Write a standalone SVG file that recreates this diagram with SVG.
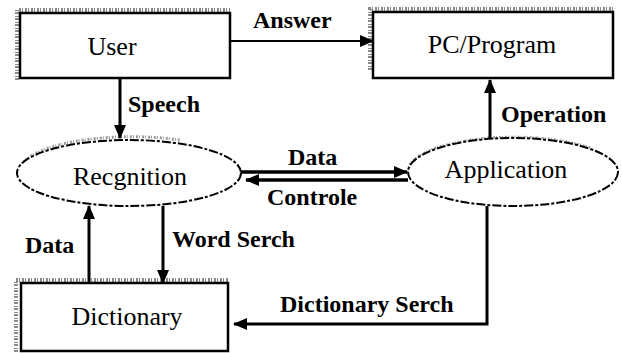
<svg xmlns="http://www.w3.org/2000/svg" width="622" height="353" viewBox="0 0 622 353">
<defs>
<marker id="ah" markerUnits="userSpaceOnUse" markerWidth="14" markerHeight="14" viewBox="0 0 14 14" refX="13" refY="7" orient="auto">
<path d="M0,1 L14,7 L0,13 Z" fill="#000"/>
</marker>
</defs>
<style>
.box{fill:#fff;stroke:#000;stroke-width:2.5}
.fuzz{fill:none;stroke:#8a8a8a;stroke-width:4;stroke-dasharray:2 1 1 2}
.ell{fill:#fff;stroke:#000;stroke-width:2;stroke-dasharray:9 2 3 2}
.efuzz{fill:none;stroke:#9a9a9a;stroke-width:3;stroke-dasharray:2 1 1 2}
text{font-family:'Liberation Serif','Times New Roman','DejaVu Serif',serif;fill:#000}
.node{font-size:26px;text-anchor:middle}
.lab{font-size:24px;font-weight:bold}
.con{fill:none;stroke:#000;stroke-width:3;marker-end:url(#ah)}
</style>
<rect width="622" height="353" fill="#fff"/>

<g id="user">
<path class="fuzz" d="M17,80 L17,10 L230,10"/>
<rect class="box" x="20" y="13" width="210" height="65"/>
<text class="node" x="112" y="55">User</text>
</g>

<g id="pcprogram">
<path class="fuzz" d="M370,70 L370,9 L613,9"/>
<rect class="box" x="373" y="12" width="240" height="66"/>
<text class="node" x="492" y="53">PC/Program</text>
</g>

<g id="recognition">
<path class="efuzz" d="M20,170 A112,34 0 0 1 180,140"/>
<ellipse class="ell" cx="129" cy="173" rx="112" ry="33"/>
<text class="node" x="130" y="185">Recgnition</text>
</g>

<g id="application">
<path class="efuzz" d="M410,165 A105,34 0 0 1 590,148"/>
<ellipse class="ell" cx="513" cy="172" rx="105" ry="34"/>
<text class="node" x="506" y="178">Application</text>
</g>

<g id="dictionary">
<path class="fuzz" d="M16,352 L16,280 L228,280"/>
<rect class="box" x="21" y="283" width="207" height="68"/>
<text class="node" x="127" y="325">Dictionary</text>
</g>

<g id="connectors">
<line class="con" x1="230" y1="41" x2="373" y2="41" style="stroke-width:2.2"/>
<line class="con" x1="120" y1="78" x2="120" y2="138"/>
<line class="con" x1="490" y1="138" x2="490" y2="80"/>
<line class="con" x1="241" y1="172" x2="407" y2="172" style="stroke-width:3.5"/>
<line class="con" x1="408" y1="180" x2="246" y2="180" style="stroke-width:3.5"/>
<line class="con" x1="89" y1="283" x2="89" y2="206"/>
<line class="con" x1="163" y1="206" x2="163" y2="283"/>
<polyline class="con" points="487,206 487,324 234,324"/>
</g>

<g id="labels">
<text class="lab" x="253" y="28">Answer</text>
<text class="lab" x="128" y="112">Speech</text>
<text class="lab" x="501" y="122">Operation</text>
<text class="lab" x="288" y="165">Data</text>
<text class="lab" x="267" y="205">Controle</text>
<text class="lab" x="25" y="253">Data</text>
<text class="lab" x="172" y="247">Word Serch</text>
<text class="lab" x="280" y="312">Dictionary Serch</text>
</g>
</svg>
